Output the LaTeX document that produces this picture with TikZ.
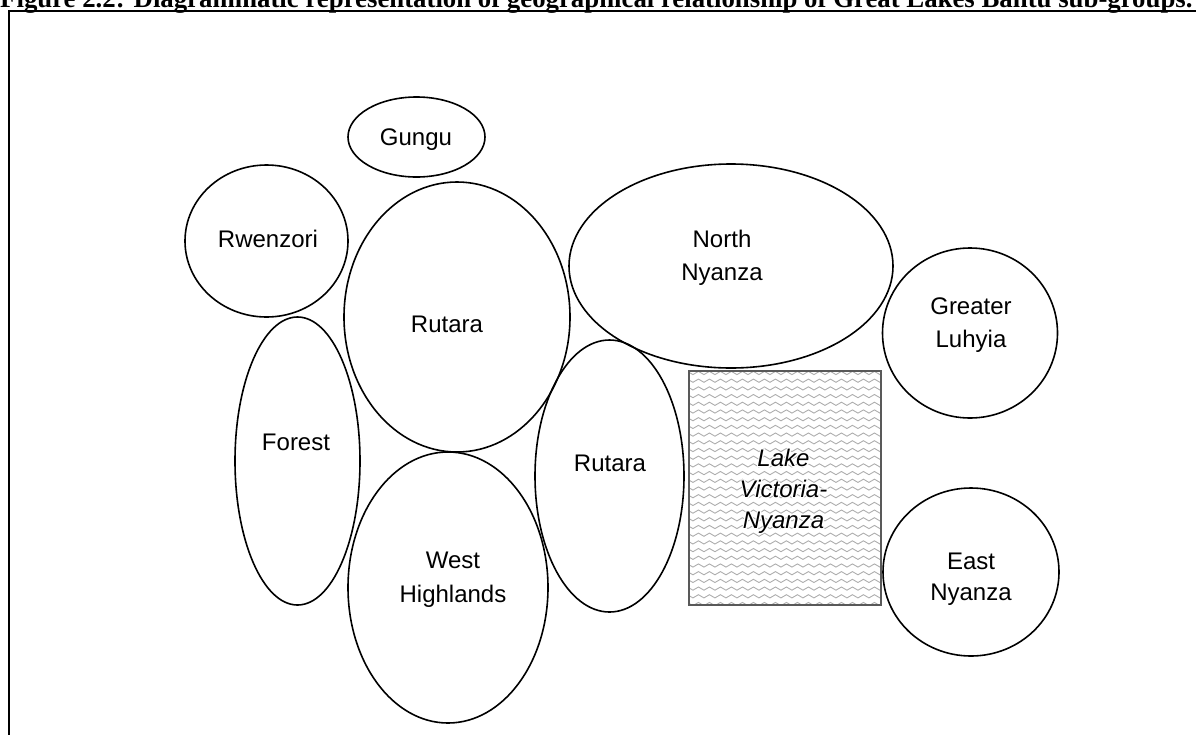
\documentclass[tikz,border=0pt]{standalone}
\usepackage{fontspec}
\setmainfont{Liberation Sans}
\newfontfamily\titlefont{Liberation Serif}
\newfontfamily\halofam{Liberation Sans}[FakeBold=10]
\usetikzlibrary{shapes.geometric,decorations.pathmorphing}
\newcommand{\glowtxt}[1]{\rlap{\color{white}\halofam\itshape #1}#1}
\begin{document}
\begin{tikzpicture}[x=1pt,y=-1pt,
  region/.style={draw=black, line width=1.6pt, ellipse, inner sep=0pt},
  lbl/.style={inner sep=0pt, anchor=base, font=\fontsize{24}{33}\selectfont},
  lakelbl/.style={inner sep=0pt, anchor=base, font=\fontsize{24}{33}\selectfont\itshape},
  lakebox/.style={draw=black!65, line width=1.3pt, rectangle, inner sep=0pt},
  wave/.style={draw=black!32, line width=0.9pt, decorate,
    decoration={snake, segment length=11pt, amplitude=1.6pt}},
  frame/.style={draw=black, line width=2pt}]
\useasboundingbox (0,0) rectangle (1196,734);

% title (cut off at the top)
\node[inner sep=0pt, anchor=base west] (title) at (0,7)
  {\resizebox{1192pt}{!}{\titlefont\bfseries Figure 2.2: Diagrammatic representation of geographical relationship of Great Lakes Bantu sub-groups.}};

% frame
\coordinate (fbl) at (9.3,740);
\coordinate (ftl) at (9.3,11);
\coordinate (ftr) at (1200,11);
\draw[frame] (fbl) -- (ftl) -- (ftr);

% regions
\node[region, minimum width=137pt, minimum height=80pt] (gungu) at (416.5,137) {};
\node[region, minimum width=163pt, minimum height=152pt] (rwenzori) at (266.5,241) {};
\node[region, minimum width=226pt, minimum height=270pt] (rutaraA) at (457,317) {};
\node[region, minimum width=324pt, minimum height=204pt] (northnyanza) at (731,266) {};
\node[region, minimum width=175pt, minimum height=170pt] (luhyia) at (970,333) {};
\node[region, minimum width=125pt, minimum height=288pt] (forest) at (297.5,461) {};
\node[region, minimum width=149pt, minimum height=272pt] (rutaraB) at (609.5,476) {};
\node[region, minimum width=200pt, minimum height=271pt] (westhigh) at (448,587.5) {};
\node[region, minimum width=176pt, minimum height=168pt] (eastnyanza) at (971,572) {};

% lake
\begin{scope}
  \clip (689,371) rectangle (881,605);
  \foreach \r in {0,...,31}{
    \coordinate (wl\r) at (684,{373+7.7*\r});
    \coordinate (wr\r) at (890,{373+7.7*\r});
    \draw[wave] (wl\r) -- (wr\r);
  }
\end{scope}
\node[lakebox, minimum width=192pt, minimum height=234pt] (lake) at (785,488) {};
\node[lakelbl] (lake1) at (783.5,466) {\glowtxt{Lake}};
\node[lakelbl] (lake2) at (783.5,497) {\glowtxt{Victoria-}};
\node[lakelbl] (lake3) at (783.5,528) {\glowtxt{Nyanza}};

% labels
\node[lbl] (gungu-t) at (416,145) {Gungu};
\node[lbl] (rwenzori-t) at (268,247) {Rwenzori};
\node[lbl] (rutaraA-t) at (447,332) {Rutara};
\node[lbl] (north-t1) at (722,247) {North};
\node[lbl] (north-t2) at (722,280) {Nyanza};
\node[lbl] (luhyia-t1) at (971,314) {Greater};
\node[lbl] (luhyia-t2) at (971,347) {Luhyia};
\node[lbl] (forest-t) at (296,450) {Forest};
\node[lbl] (rutaraB-t) at (610,471) {Rutara};
\node[lbl] (west-t1) at (453,568) {West};
\node[lbl] (west-t2) at (453,602) {Highlands};
\node[lbl] (east-t1) at (971,569) {East};
\node[lbl] (east-t2) at (971,600) {Nyanza};
\end{tikzpicture}
\end{document}
